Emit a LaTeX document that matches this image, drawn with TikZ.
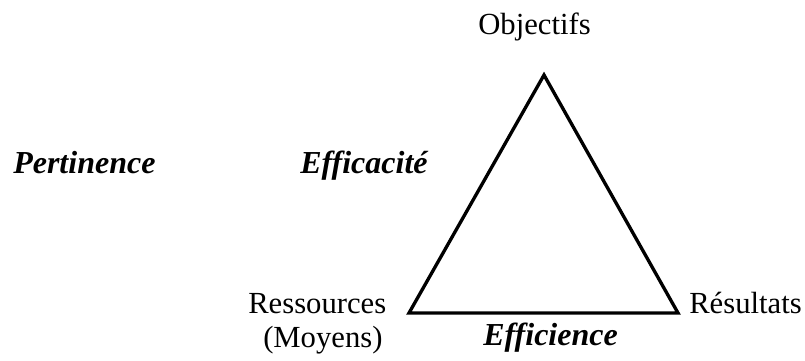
\documentclass[tikz,border=0pt]{standalone}
\usepackage{fontspec}
\setmainfont{Liberation Serif}
\usepackage{tikz}

\tikzset{
    lbl/.style={anchor=base west, inner sep=0pt, font=\fontsize{23}{25}\selectfont},
    crit/.style={lbl, font=\fontsize{24}{26}\selectfont\bfseries\itshape},
}

\begin{document}
\begin{tikzpicture}[x=0.75pt,y=0.75pt,yscale=-1,xscale=1]
    \useasboundingbox (0,0) rectangle (805,360);

    %Shape: Triangle
    \coordinate (top) at (544,75);
    \coordinate (left) at (409,313);
    \coordinate (right) at (678,313);
    \draw [line width=2.5pt, line join=miter] (top) -- (right) -- (left) -- cycle;

    % Text Node
    \node (objectifs) [lbl] at (478,35) {Objectifs};
    % Text Node
    \node (ressources) [lbl] at (248,313) {Ressources};
    % Text Node
    \node (moyens) [lbl] at (263,347) {(Moyens)};
    % Text Node
    \node (resultats) [lbl] at (689,313) {Résultats};
    % Text Node
    \node (pertinence) [crit] at (13,173) {Pertinence};
    % Text Node
    \node (efficacite) [crit] at (300,173) {Efficacité};
    % Text Node
    \node (efficience) [crit] at (483,345) {Efficience};

\end{tikzpicture}
\end{document}
